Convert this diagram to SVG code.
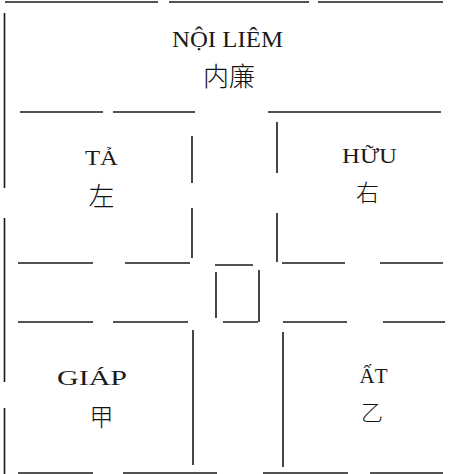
<svg xmlns="http://www.w3.org/2000/svg" width="449" height="474" viewBox="0 0 449 474">
<style>
.w{stroke:#1a1a1a;stroke-width:1.6;fill:none;stroke-linecap:butt}
.lat{font-family:"Liberation Serif","Times New Roman",serif;fill:#1a1a1a;text-anchor:middle}
.cjk{font-family:"Noto Sans CJK TC","Noto Sans CJK SC",serif;font-weight:300;fill:#111;text-anchor:middle}
</style>
<rect width="449" height="474" fill="#fff"/>
<g id="walls">
<path class="w" d="M5 2H158M169 2H309M318 2H443"/>
<path class="w" d="M4.5 13V188M4.5 218V382M4.5 408V474"/>
<path class="w" d="M20 112H103M113 112H195M268 112H441"/>
<path class="w" d="M192 136V183M192 208V258"/>
<path class="w" d="M277 122V173M277 213V262"/>
<path class="w" d="M18 263H93M125 263H190M282 263H345M380 263H443"/>
<path class="w" d="M215 265H253M216 272V318M259 270V322M223 322H258"/>
<path class="w" d="M18 322H93M113 322H188M283 322H347M383 322H445"/>
<path class="w" d="M193 330V465M283 332V467"/>
<path class="w" d="M18 473H93M123 473H217M263 473H348M370 473H443"/>
</g>
<g id="noi-liem">
<text class="lat" x="227.5" y="47" font-size="23" textLength="111" lengthAdjust="spacingAndGlyphs">NỘI LIÊM</text>
<text class="cjk" x="229" y="86" font-size="26">内廉</text>
</g>
<g id="ta">
<text class="lat" x="101.5" y="165" font-size="21" textLength="33" lengthAdjust="spacingAndGlyphs">TẢ</text>
<text class="cjk" x="101.5" y="206" font-size="26">左</text>
</g>
<g id="huu">
<text class="lat" x="369.5" y="163" font-size="21" textLength="55" lengthAdjust="spacingAndGlyphs">HỮU</text>
<text class="cjk" x="367.5" y="201" font-size="23">右</text>
</g>
<g id="giap">
<text class="lat" x="92" y="385" font-size="22" textLength="70" lengthAdjust="spacingAndGlyphs">GIÁP</text>
<text class="cjk" x="101.5" y="426" font-size="24">甲</text>
</g>
<g id="at">
<text class="lat" x="373.5" y="383" font-size="21" textLength="28" lengthAdjust="spacingAndGlyphs">ẤT</text>
<text class="cjk" x="372" y="420" font-size="22">乙</text>
</g>
</svg>
